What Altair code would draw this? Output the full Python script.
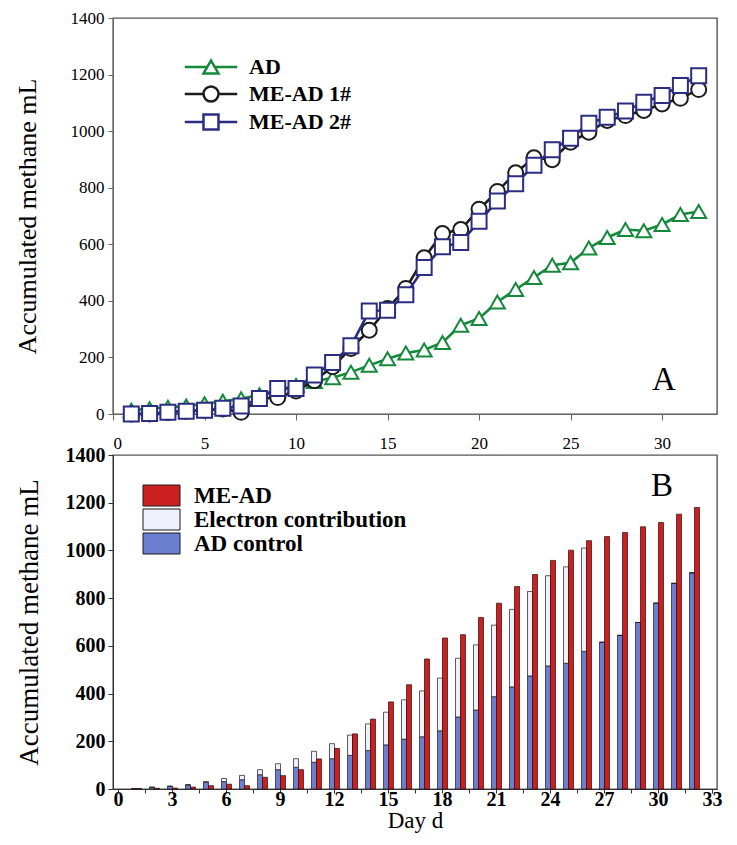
import altair as alt
import pandas as pd

# ---------------- data: panel A ----------------
days = list(range(1, 33))
series_names = ["AD", "ME-AD 1#", "ME-AD 2#"]
ad = [13, 19, 24, 28, 36, 45, 54, 68, 85, 101, 115, 128, 148, 172, 195, 216,
      226, 253, 314, 338, 396, 440, 483, 526, 535, 587, 624, 652, 648, 670, 705, 716]
me_ad_1 = [0, 0, 5, 10, 13, 18, 6, 55, 58, 81, 118, 167, 232, 296, 373, 444,
           552, 638, 652, 724, 787, 853, 906, 899, 961, 996, 1038, 1055, 1073, 1096, 1116, 1147]
me_ad_2 = [0, 2, 6, 10, 13, 20, 28, 55, 90, 90, 138, 182, 241, 364, 367, 422,
           518, 591, 606, 681, 753, 814, 879, 934, 975, 1028, 1049, 1071, 1102, 1126, 1161, 1196]

# ---------------- data: panel B ----------------
bar_series = ["ME-AD", "Electron contribution", "AD control"]
bar_me_ad = [2, 3, 4, 8, 14, 20, 14, 49, 56, 81, 126, 170, 231, 293, 365, 437,
             545, 633, 647, 719, 779, 849, 899, 958, 1001, 1041, 1058, 1075, 1099, 1117, 1152, 1180]
bar_ad_control = [1, 7, 11, 17, 28, 31, 39, 60, 81, 91, 112, 127, 141, 161, 185, 209,
                  219, 244, 302, 331, 387, 428, 474, 516, 527, 577, 615, 644, 698, 779, 862, 906]
bar_electron = [1, 1, 1, 1, 3, 13, 18, 21, 25, 36, 46, 63, 85, 112, 137, 165,
                192, 221, 246, 273, 300, 325, 354, 378, 404, 433, 0, 0, 0, 0, 0, 0]

top_x_ticks = [0, 5, 10, 15, 20, 25, 30]
y_ticks = [0, 200, 400, 600, 800, 1000, 1200, 1400]
bottom_x_ticks = [i * 1.5 for i in range(23)]

FONT = "Liberation Serif"
line_colors = ["#15893b", "#1c1c1c", "#2b2d80"]
marker_shapes = ["triangle-up", "circle", "square"]
bar_colors = ["#cc2020", "#eef1fa", "#6a7fd0"]
W = 604

# ---------------- panel A ----------------
top_df = pd.DataFrame({
    "day": days * 3,
    "value": ad + me_ad_1 + me_ad_2,
    "series": [series_names[0]] * 32 + [series_names[1]] * 32 + [series_names[2]] * 32,
})

P_TRI = "M-3.5,0H-0.5M0.5,0H3.5M0,-0.866L-1,0.866L1,0.866Z"
P_CIR = "M-3.5,0H-1M1,0H3.5M1,0A1,1,0,1,1,-1,0A1,1,0,1,1,1,0Z"
P_SQ = "M-3.5,0H-1M1,0H3.5M-1,-1H1V1H-1Z"
shape_expr = ("datum.value === 'AD' ? '%s' : (datum.value === 'ME-AD 1#' ? '%s' : '%s')"
              % (P_TRI, P_CIR, P_SQ))

top_legend = alt.Legend(
    orient="none", legendX=87, legendY=38, title=None, padding=0,
    labelFont=FONT, labelFontSize=22, labelFontWeight="bold", labelColor="black",
    symbolSize=225, symbolStrokeWidth=2.5, labelOffset=27, rowPadding=2,
    symbolType=alt.ExprRef(expr=shape_expr), symbolFillColor="white", labelLimit=400,
)

x_top = alt.X("day:Q", scale=alt.Scale(domain=[0, 33], nice=False),
              axis=alt.Axis(values=top_x_ticks, title=None, grid=False, tickSize=6,
                            labelPadding=15, labelFont=FONT, labelFontSize=17, format="d",
                            labelColor="black", domainColor="#666", tickColor="#666"))
y_top = alt.Y("value:Q", scale=alt.Scale(domain=[0, 1400], nice=False),
              axis=alt.Axis(values=y_ticks, title="Accumulated methane mL", grid=False,
                            tickSize=5, labelPadding=4, labelFont=FONT, labelFontSize=17,
                            format="d", labelColor="black", titleFont=FONT, titleFontSize=26,
                            titleFontWeight="normal", titleColor="black", titlePadding=30,
                            domainColor="#666", tickColor="#666"))
color_top = alt.Color("series:N", scale=alt.Scale(domain=series_names, range=line_colors),
                      legend=top_legend)

top_layers = []
for name, shp in zip(series_names, marker_shapes):
    base = alt.Chart(top_df).transform_filter(alt.datum.series == name)
    top_layers.append(base.mark_line(strokeWidth=2.6).encode(x=x_top, y=y_top, color=color_top))
    top_layers.append(base.mark_point(filled=False, fill="white", shape=shp, size=225,
                                      strokeWidth=2, opacity=1).encode(
        x=x_top, y=y_top, color=color_top))

label_a = alt.Chart(pd.DataFrame({"t": ["A"]})).mark_text(
    font=FONT, fontSize=33, align="center", baseline="alphabetic", color="black"
).encode(text="t:N", x=alt.value(551), y=alt.value(372))

top = alt.layer(*top_layers, label_a).properties(width=W, height=396)

# ---------------- panel B ----------------
left_df = pd.DataFrame({
    "day": days * 2,
    "value": bar_ad_control + bar_electron,
    "series": [bar_series[2]] * 32 + [bar_series[1]] * 32,
    "ord": [0] * 32 + [1] * 32,
})
red_df = pd.DataFrame({"day": days, "value": bar_me_ad, "series": [bar_series[0]] * 32})

RECT = "M-1.85,-1.05H1.85V1.05H-1.85Z"
bottom_legend = alt.Legend(
    orient="none", legendX=37, legendY=29, title=None, padding=0,
    labelFont=FONT, labelFontSize=23, labelFontWeight="bold", labelColor="black",
    symbolSize=400, symbolType=RECT, symbolStrokeColor="#1a1a1a", symbolStrokeWidth=1,
    labelOffset=21, rowPadding=-3, labelLimit=400,
)

x_bot = alt.X("day:Q", scale=alt.Scale(domain=[0, 33], nice=False),
              axis=alt.Axis(values=bottom_x_ticks, title="Day d", grid=False, tickSize=4,
                            labelExpr="datum.value % 3 === 0 ? datum.label : ''",
                            labelBaseline="middle",
                            labelPadding=6, labelFont=FONT, labelFontSize=20, format="d",
                            labelFontWeight="bold", labelColor="black", titleFont=FONT,
                            titleFontSize=23, titleFontWeight="normal", titleColor="black",
                            titlePadding=0, domainColor="#333", tickColor="#333"))
y_bot = alt.Y("value:Q", scale=alt.Scale(domain=[0, 1400], nice=False), stack="zero",
              axis=alt.Axis(values=y_ticks, title="Accumulated methane mL", grid=False,
                            tickSize=5, labelPadding=3, labelFont=FONT, labelFontSize=20,
                            format="d", labelFontWeight="bold", labelColor="black",
                            titleFont=FONT, titleFontSize=27, titleFontWeight="normal",
                            titleColor="black", titlePadding=22,
                            domainColor="#333", tickColor="#333"))
color_bot = alt.Color("series:N", scale=alt.Scale(domain=bar_series, range=bar_colors),
                      legend=bottom_legend)

bars_left = alt.Chart(left_df).mark_bar(size=5, xOffset=-2, stroke="#1a1a1a",
                                        strokeWidth=0.7).encode(
    x=x_bot, y=y_bot, color=color_bot, order=alt.Order("ord:Q"))
bars_right = alt.Chart(red_df).mark_bar(size=5, xOffset=3, stroke="#2a0a0a",
                                        strokeWidth=0.7).encode(
    x=x_bot, y=y_bot, color=color_bot)

label_b = alt.Chart(pd.DataFrame({"t": ["B"]})).mark_text(
    font=FONT, fontSize=33, align="center", baseline="alphabetic", color="black"
).encode(text="t:N", x=alt.value(549), y=alt.value(41))

bottom = alt.layer(bars_left, bars_right, label_b).properties(width=W, height=334)

chart = alt.vconcat(top, bottom, spacing=41, bounds="flush").resolve_scale(
    color="independent", x="independent", y="independent"
).properties(
    padding={"left": 5, "top": 0, "right": 0, "bottom": 2}
).configure_view(stroke="#555", strokeWidth=1.4).configure_legend(
    labelFont=FONT, labelFontWeight="bold", labelColor="black", labelLimit=400
)

chart.save("out.html", embed_options={"renderer": "svg", "actions": False})
